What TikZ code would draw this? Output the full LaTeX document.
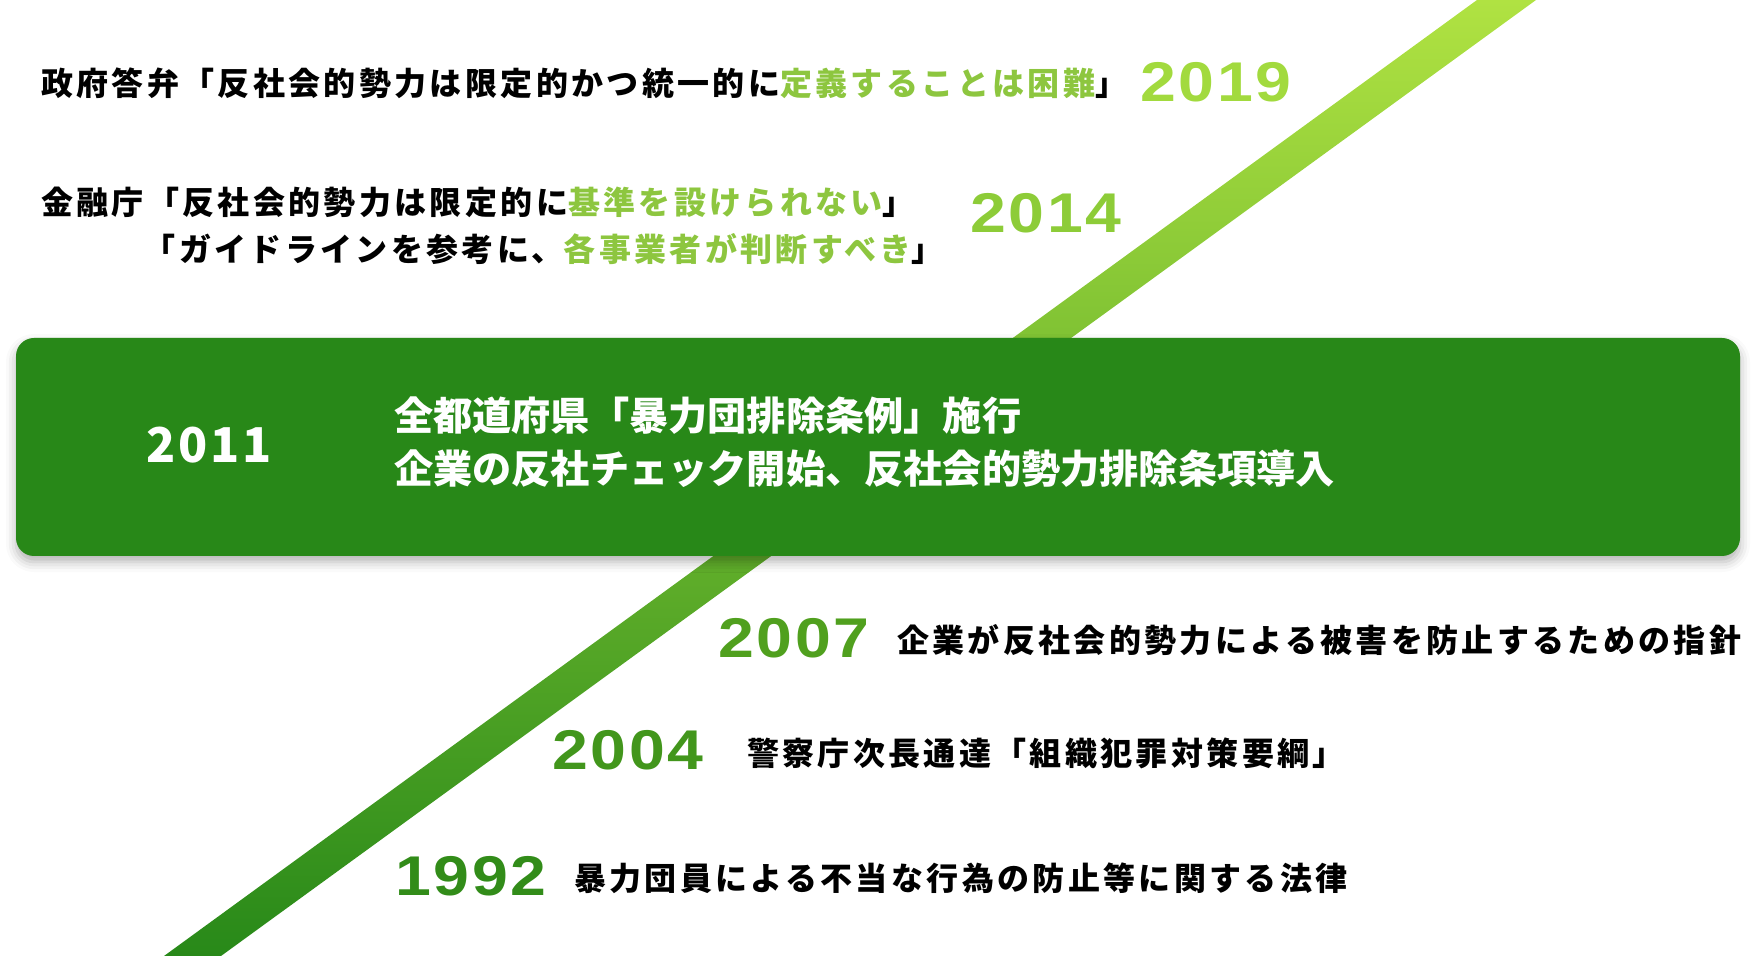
\documentclass[tikz,border=0pt]{standalone}
\usepackage{fontspec}
\usetikzlibrary{shadows.blur}
\newfontfamily\jpfont{Noto Sans CJK JP}[LetterSpace=10.5]
\newfontfamily\jpboxfont{Noto Sans CJK JP}
\newfontfamily\jpyearfont{Noto Sans CJK JP}[LetterSpace=6]
\newfontfamily\yearfont{Liberation Sans}[LetterSpace=5,FakeStretch=1.15]
\definecolor{bandtop}{RGB}{176,226,66}
\definecolor{bandbottom}{RGB}{40,137,25}
\definecolor{boxgreen}{RGB}{40,136,24}
\definecolor{hilite}{RGB}{141,198,63}
\definecolor{yA}{RGB}{162,218,62}
\definecolor{yB}{RGB}{141,204,56}
\definecolor{yC}{RGB}{80,160,30}
\definecolor{yD}{RGB}{66,150,28}
\definecolor{yE}{RGB}{50,140,25}
\tikzset{
        every node/.style={anchor=west,inner sep=0pt,outer sep=0pt},
        entry/.style={font=\jpfont\bfseries\fontsize{16}{20}\selectfont,text=black},
        year/.style={font=\yearfont\bfseries\fontsize{28}{30}\selectfont},
        boxyear/.style={font=\jpyearfont\bfseries\fontsize{24}{28}\selectfont,text=white},
        boxtext/.style={font=\jpboxfont\bfseries\fontsize{19.6}{26.5}\selectfont,text=white,align=left},
        }

\begin{document}
\begin{tikzpicture}[x=0.5pt,y=-0.5pt]
					\useasboundingbox (0,0) rectangle (1756,956);

					% diagonal band.....................
					\shade [top color=bandtop, bottom color=bandbottom] (164,956) -- (221,956) -- (1536,0) -- (1477,0) -- cycle;

					% 2011 box......................
					\fill [boxgreen, rounded corners=9pt, blur shadow={shadow xshift=0pt, shadow yshift=-3pt, shadow blur radius=5pt, shadow opacity=30}] (16,338) rectangle (1740,556);
					\node (y2011) [boxyear] at (146,445) {2011};
					\node (t2011) [boxtext] at (394,442) {全都道府県「暴力団排除条例」施行\\企業の反社チェック開始、反社会的勢力排除条項導入};

					% 2019...................
					\node (t2019) [entry] at (41,83) {政府答弁「反社会的勢力は限定的かつ統一的に\textcolor{hilite}{定義することは困難}」};
					\node (y2019) [year, text=yA] at (1140,82) {2019};

					% 2014...................
					\node (t2014a) [entry] at (41,202) {金融庁「反社会的勢力は限定的に\textcolor{hilite}{基準を設けられない}」};
					\node (t2014b) [entry] at (41,249) {\phantom{金融庁}「ガイドラインを参考に、\textcolor{hilite}{各事業者が判断すべき}」};
					\node (y2014) [year, text=yB] at (970,213) {2014};

					% 2007.............
					\node (y2007) [year, text=yC] at (718,638) {2007};
					\node (t2007) [entry] at (897,640) {企業が反社会的勢力による被害を防止するための指針};

					% 2004.............
					\node (y2004) [year, text=yD] at (552,750) {2004};
					\node (t2004) [entry] at (747,753) {警察庁次長通達「組織犯罪対策要綱」};

					% 1992.............
					\node (y1992) [year, text=yE] at (395,876) {1992};
					\node (t1992) [entry] at (574,878) {暴力団員による不当な行為の防止等に関する法律};
				\end{tikzpicture}
\end{document}
